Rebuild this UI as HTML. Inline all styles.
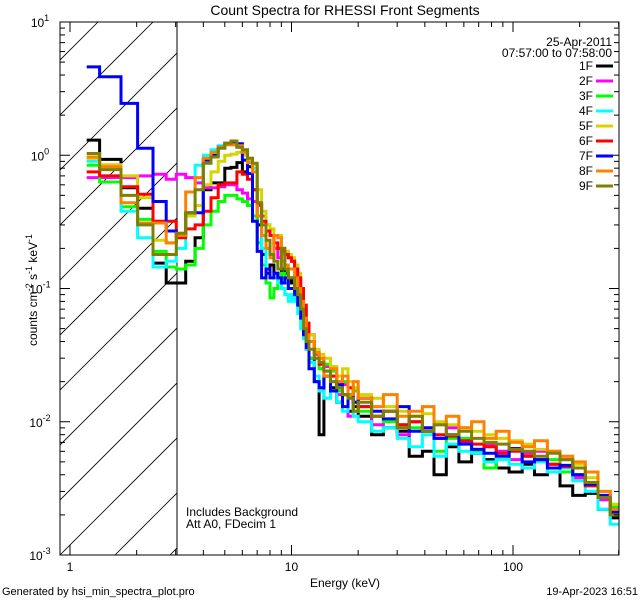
<!DOCTYPE html>
<html><head><meta charset="utf-8"><style>
html,body{margin:0;padding:0;background:#fff;}
svg{display:block;font-family:"Liberation Sans",sans-serif;}
</style></head><body>
<svg id="chart" width="640" height="600" viewBox="0 0 640 600" xmlns="http://www.w3.org/2000/svg">
<rect x="0" y="0" width="640" height="600" fill="#fff"/>
<defs><clipPath id="plotclip"><rect x="60" y="22" width="559" height="533"/></clipPath>
<clipPath id="hatchclip"><rect x="60" y="22" width="117" height="533"/></clipPath></defs>
<text x="345" y="15" font-size="14" text-anchor="middle">Count Spectra for RHESSI Front Segments</text>
<g id="hatch" clip-path="url(#hatchclip)"></g>
<line x1="177" y1="22" x2="177" y2="555" stroke="#000" stroke-width="1"/>
<g id="series" clip-path="url(#plotclip)"></g>
<rect x="60" y="22" width="559" height="533" fill="none" stroke="#000" stroke-width="1"/>
<g id="axes"></g>
<text x="612" y="46" font-size="12" text-anchor="end">25-Apr-2011</text>
<text x="612" y="57" font-size="12" text-anchor="end">07:57:00 to 07:58:00</text>
<g id="legend"></g>
<text x="186" y="516" font-size="12">Includes Background</text>
<text x="186" y="528" font-size="12">Att A0, FDecim 1</text>
<text x="345" y="587" font-size="12" text-anchor="middle">Energy (keV)</text>
<text transform="translate(37,290) rotate(-90)" font-size="12" text-anchor="middle">counts cm<tspan dy="-5" font-size="9">-2</tspan><tspan dy="5"> s</tspan><tspan dy="-5" font-size="9">-1</tspan><tspan dy="5"> keV</tspan><tspan dy="-5" font-size="9">-1</tspan></text>
<text x="2" y="595" font-size="11">Generated by hsi_min_spectra_plot.pro</text>
<text x="638" y="595" font-size="11" text-anchor="end">19-Apr-2023 16:51</text>
</svg>
<script>
const edges = [1.19,1.36,1.70,2.02,2.37,2.72,3.02,3.33,3.67,4.0,4.33,4.67,5.0,5.33,5.67,6.0,6.33,6.67,7.0,7.33,7.67,8.0,8.33,8.67,9.0,9.33,9.67,10,10.33,10.67,11,11.33,11.67,12,12.67,13.33,14,15,16,17,18,19,20,23,26,30,34,39,44,50,57,65,74,84,96,110,125,143,163,186,212,242,275,300];
const seriesNames = ["1F","2F","3F","4F","5F","6F","7F","8F","9F"];
const seriesColors = ["#000000","#ff00ff","#00ff00","#00ffff","#d4d400","#ff0000","#0000ff","#ff8000","#808000"];
const s1F = [1.3,0.93,0.57,0.40,0.155,0.11, 0.11,0.16,0.24,0.55,0.62,0.62,0.8,0.81,0.88,0.75,0.82,0.55,0.3,0.18,0.13,0.15,0.13,0.12,0.14,0.13,0.12, 0.11,0.10,0.09,0.07,0.045,0.035, 0.03,0.02,0.008,0.022,0.018,0.014,0.016,0.012,0.013,0.011,0.008,0.009,0.0085,0.0055,0.006,0.004,0.0065,0.005,0.0058,0.0052,0.0045,0.0042,0.0048,0.0040,0.0042,0.0033,0.0028,0.0029,0.0022,0.0019];
const s2F = [0.68,0.68,0.68,0.70,0.72,0.66, 0.72,0.68,0.62,0.57,0.57,0.58,0.6,0.6,0.55,0.52,0.47,0.45,0.42,0.35,0.3,0.25,0.2,0.17,0.2,0.19,0.17, 0.16,0.15,0.12,0.09,0.06,0.045, 0.045,0.032,0.03,0.026,0.02,0.016,0.019,0.011,0.017,0.013,0.0095,0.012,0.008,0.01,0.0085,0.0075,0.009,0.007,0.0062,0.0068,0.006,0.0052,0.0058,0.006,0.0048,0.0052,0.0038,0.0034,0.0026,0.0022];
const s3F = [0.84,0.63,0.41,0.33,0.19,0.145, 0.14,0.15,0.2,0.3,0.38,0.45,0.5,0.5,0.47,0.45,0.42,0.35,0.22,0.15,0.11,0.085,0.1,0.12,0.13,0.11,0.1, 0.1,0.09,0.08,0.06,0.045,0.04, 0.03,0.03,0.025,0.027,0.024,0.017,0.02,0.015,0.017,0.012,0.011,0.01,0.0095,0.009,0.0085,0.006,0.0075,0.0075,0.006,0.0045,0.0052,0.0062,0.0055,0.005,0.0052,0.0042,0.0040,0.0034,0.0027,0.0023];
const s4F = [0.9,0.7,0.38,0.24,0.145,0.16, 0.2,0.37,0.84,1.0,1.1,1.18,1.2,1.2,1.15,1.1,0.9,0.8,0.35,0.2,0.14,0.12,0.12,0.11,0.1,0.09,0.08, 0.09,0.08,0.065,0.05,0.042,0.035, 0.028,0.022,0.017,0.015,0.02,0.014,0.012,0.016,0.011,0.01,0.0085,0.009,0.0075,0.0065,0.008,0.0055,0.0068,0.006,0.0058,0.005,0.0052,0.0048,0.0045,0.005,0.0042,0.0045,0.0036,0.003,0.0022,0.0017];
const s5F = [0.95,0.85,0.7,0.48,0.23,0.22, 0.26,0.35,0.42,0.6,0.75,0.9,1.0,1.02,1.05,1.0,0.95,0.85,0.55,0.38,0.3,0.28,0.25,0.25,0.2,0.19,0.18, 0.17,0.15,0.13,0.1,0.07,0.05, 0.045,0.035,0.032,0.03,0.026,0.022,0.025,0.02,0.018,0.016,0.015,0.013,0.012,0.011,0.0115,0.01,0.0095,0.009,0.0085,0.008,0.0075,0.0072,0.0068,0.0062,0.006,0.0055,0.0048,0.0038,0.003,0.0024];
const s6F = [0.75,0.7,0.58,0.51,0.32,0.32, 0.24,0.28,0.3,0.38,0.48,0.6,0.62,0.62,0.75,0.72,0.66,0.55,0.43,0.32,0.27,0.25,0.22,0.2,0.19,0.18,0.17, 0.16,0.14,0.12,0.1,0.075,0.055, 0.04,0.033,0.027,0.024,0.022,0.02,0.016,0.018,0.014,0.013,0.011,0.012,0.0095,0.01,0.0085,0.008,0.0078,0.0072,0.0068,0.0065,0.0058,0.006,0.0055,0.0052,0.0048,0.0046,0.004,0.0033,0.0027,0.0022];
const s7F = [4.6,3.88,2.45,1.13,0.45,0.27, 0.25,0.37,0.37,0.92,1.0,1.15,1.23,1.23,1.22,0.92,0.73,0.32,0.19,0.12,0.14,0.12,0.13,0.12,0.11,0.12,0.1, 0.1,0.09,0.075,0.06,0.045,0.036, 0.025,0.02,0.018,0.022,0.017,0.019,0.013,0.016,0.014,0.015,0.012,0.0105,0.013,0.0085,0.009,0.0075,0.008,0.0068,0.0062,0.0058,0.0055,0.0063,0.005,0.0052,0.0045,0.0047,0.0040,0.0034,0.0028,0.0021];
const s8F = [0.97,0.82,0.44,0.31,0.31,0.22, 0.25,0.53,0.68,0.95,1.05,1.15,1.2,1.2,1.18,1.05,0.88,0.75,0.35,0.25,0.2,0.17,0.25,0.24,0.16,0.15,0.14, 0.14,0.12,0.1,0.08,0.06,0.045, 0.04,0.033,0.03,0.022,0.025,0.02,0.022,0.016,0.02,0.015,0.013,0.016,0.011,0.012,0.013,0.0095,0.011,0.009,0.01,0.0075,0.0085,0.007,0.0065,0.0072,0.006,0.0055,0.005,0.0042,0.003,0.0022];
const s9F = [1.03,0.78,0.5,0.3,0.18,0.18, 0.26,0.37,0.55,0.87,0.97,1.13,1.23,1.28,1.15,1.1,0.95,0.87,0.44,0.3,0.23,0.18,0.16,0.14,0.2,0.14,0.12, 0.12,0.1,0.09,0.07,0.05,0.04, 0.035,0.03,0.028,0.024,0.02,0.018,0.016,0.015,0.012,0.014,0.011,0.012,0.009,0.011,0.0085,0.0095,0.008,0.0085,0.0075,0.007,0.0068,0.0062,0.006,0.0055,0.0058,0.0052,0.0045,0.0035,0.0027,0.002];
const xTickLabels = ["1","10","100"];
const yTickExps = ["-3","-2","-1","0","1"];

const NS="http://www.w3.org/2000/svg";
const X0=60,X1=619,Y0=22,Y1=555;
const xLogMin=-0.0451, xLogMax=2.4786;
const yLogMin=-3, yLogMax=1;
function xs(e){return X0+(Math.log10(e)-xLogMin)/(xLogMax-xLogMin)*(X1-X0);}
function ys(v){return Y1-(Math.log10(v)-yLogMin)/(yLogMax-yLogMin)*(Y1-Y0);}
function mk(tag,attrs,parent){const el=document.createElementNS(NS,tag);for(const k in attrs)el.setAttribute(k,attrs[k]);parent.appendChild(el);return el;}

const hatch=document.getElementById('hatch');
for(let k=-12;k<4;k++){
  const x0=X0+k*55;
  const l=mk('line',{x1:x0,y1:Y1,x2:x0+600,y2:Y1-600,stroke:'#000','stroke-width':0.8},hatch);
  
  
}

const allSeries=[s1F,s2F,s3F,s4F,s5F,s6F,s7F,s8F,s9F];
const sg=document.getElementById('series');
allSeries.forEach((vals,i)=>{
  let d='';
  const n=Math.min(vals.length,edges.length-1);
  for(let j=0;j<n;j++){
    const xa=xs(edges[j]).toFixed(1),xb=xs(edges[j+1]).toFixed(1),y=ys(vals[j]).toFixed(1);
    d+=(j===0?'M':'L')+xa+','+y+'L'+xb+','+y;
  }
  const p=mk('path',{d:d,fill:'none',stroke:seriesColors[i],'stroke-width':3,'stroke-linejoin':'miter'},sg);
  
  
});

const ax=document.getElementById('axes');
for(let dec=0;dec<3;dec++){
  for(let m=1;m<10;m++){
    const e=m*Math.pow(10,dec);
    const x=xs(e);
    if(x<X0||x>X1)continue;
    const len=m===1?10:5;
    const t1=mk('line',{x1:x,y1:Y1,x2:x,y2:Y1-len,stroke:'#000'},ax);
    
    
    const t2=mk('line',{x1:x,y1:Y0,x2:x,y2:Y0+len,stroke:'#000'},ax);
    
    
    if(m===1){
      const t=mk('text',{x:x,y:Y1+16,'font-size':12,'text-anchor':'middle'},ax);
      t.textContent=xTickLabels[dec];
      
      
    }
  }
}
for(let dec=-3;dec<=1;dec++){
  for(let m=1;m<10;m++){
    if(dec===1&&m>1)break;
    const v=m*Math.pow(10,dec);
    const y=ys(v);
    const len=m===1?10:5;
    const t1=mk('line',{x1:X0,y1:y,x2:X0+len,y2:y,stroke:'#000'},ax);
    
    
    const t2=mk('line',{x1:X1,y1:y,x2:X1-len,y2:y,stroke:'#000'},ax);
    
    
    if(m===1){
      const t=mk('text',{x:X0-20,y:y+5,'font-size':12,'text-anchor':'middle'},ax);
      
      
      t.textContent='10';
      const s=mk('tspan',{dy:-6,'font-size':9},t);
      s.textContent=yTickExps[dec+3];
    }
  }
}

const lg=document.getElementById('legend');
seriesNames.forEach((nm,i)=>{
  const y=70+i*15;
  const t=mk('text',{x:593,y:y,'font-size':12,'text-anchor':'end'},lg);
  t.textContent=nm;
  
  
  const l=mk('line',{x1:596,y1:y-4,x2:613,y2:y-4,stroke:seriesColors[i],'stroke-width':3},lg);
  
  
});
</script>
</body></html>
